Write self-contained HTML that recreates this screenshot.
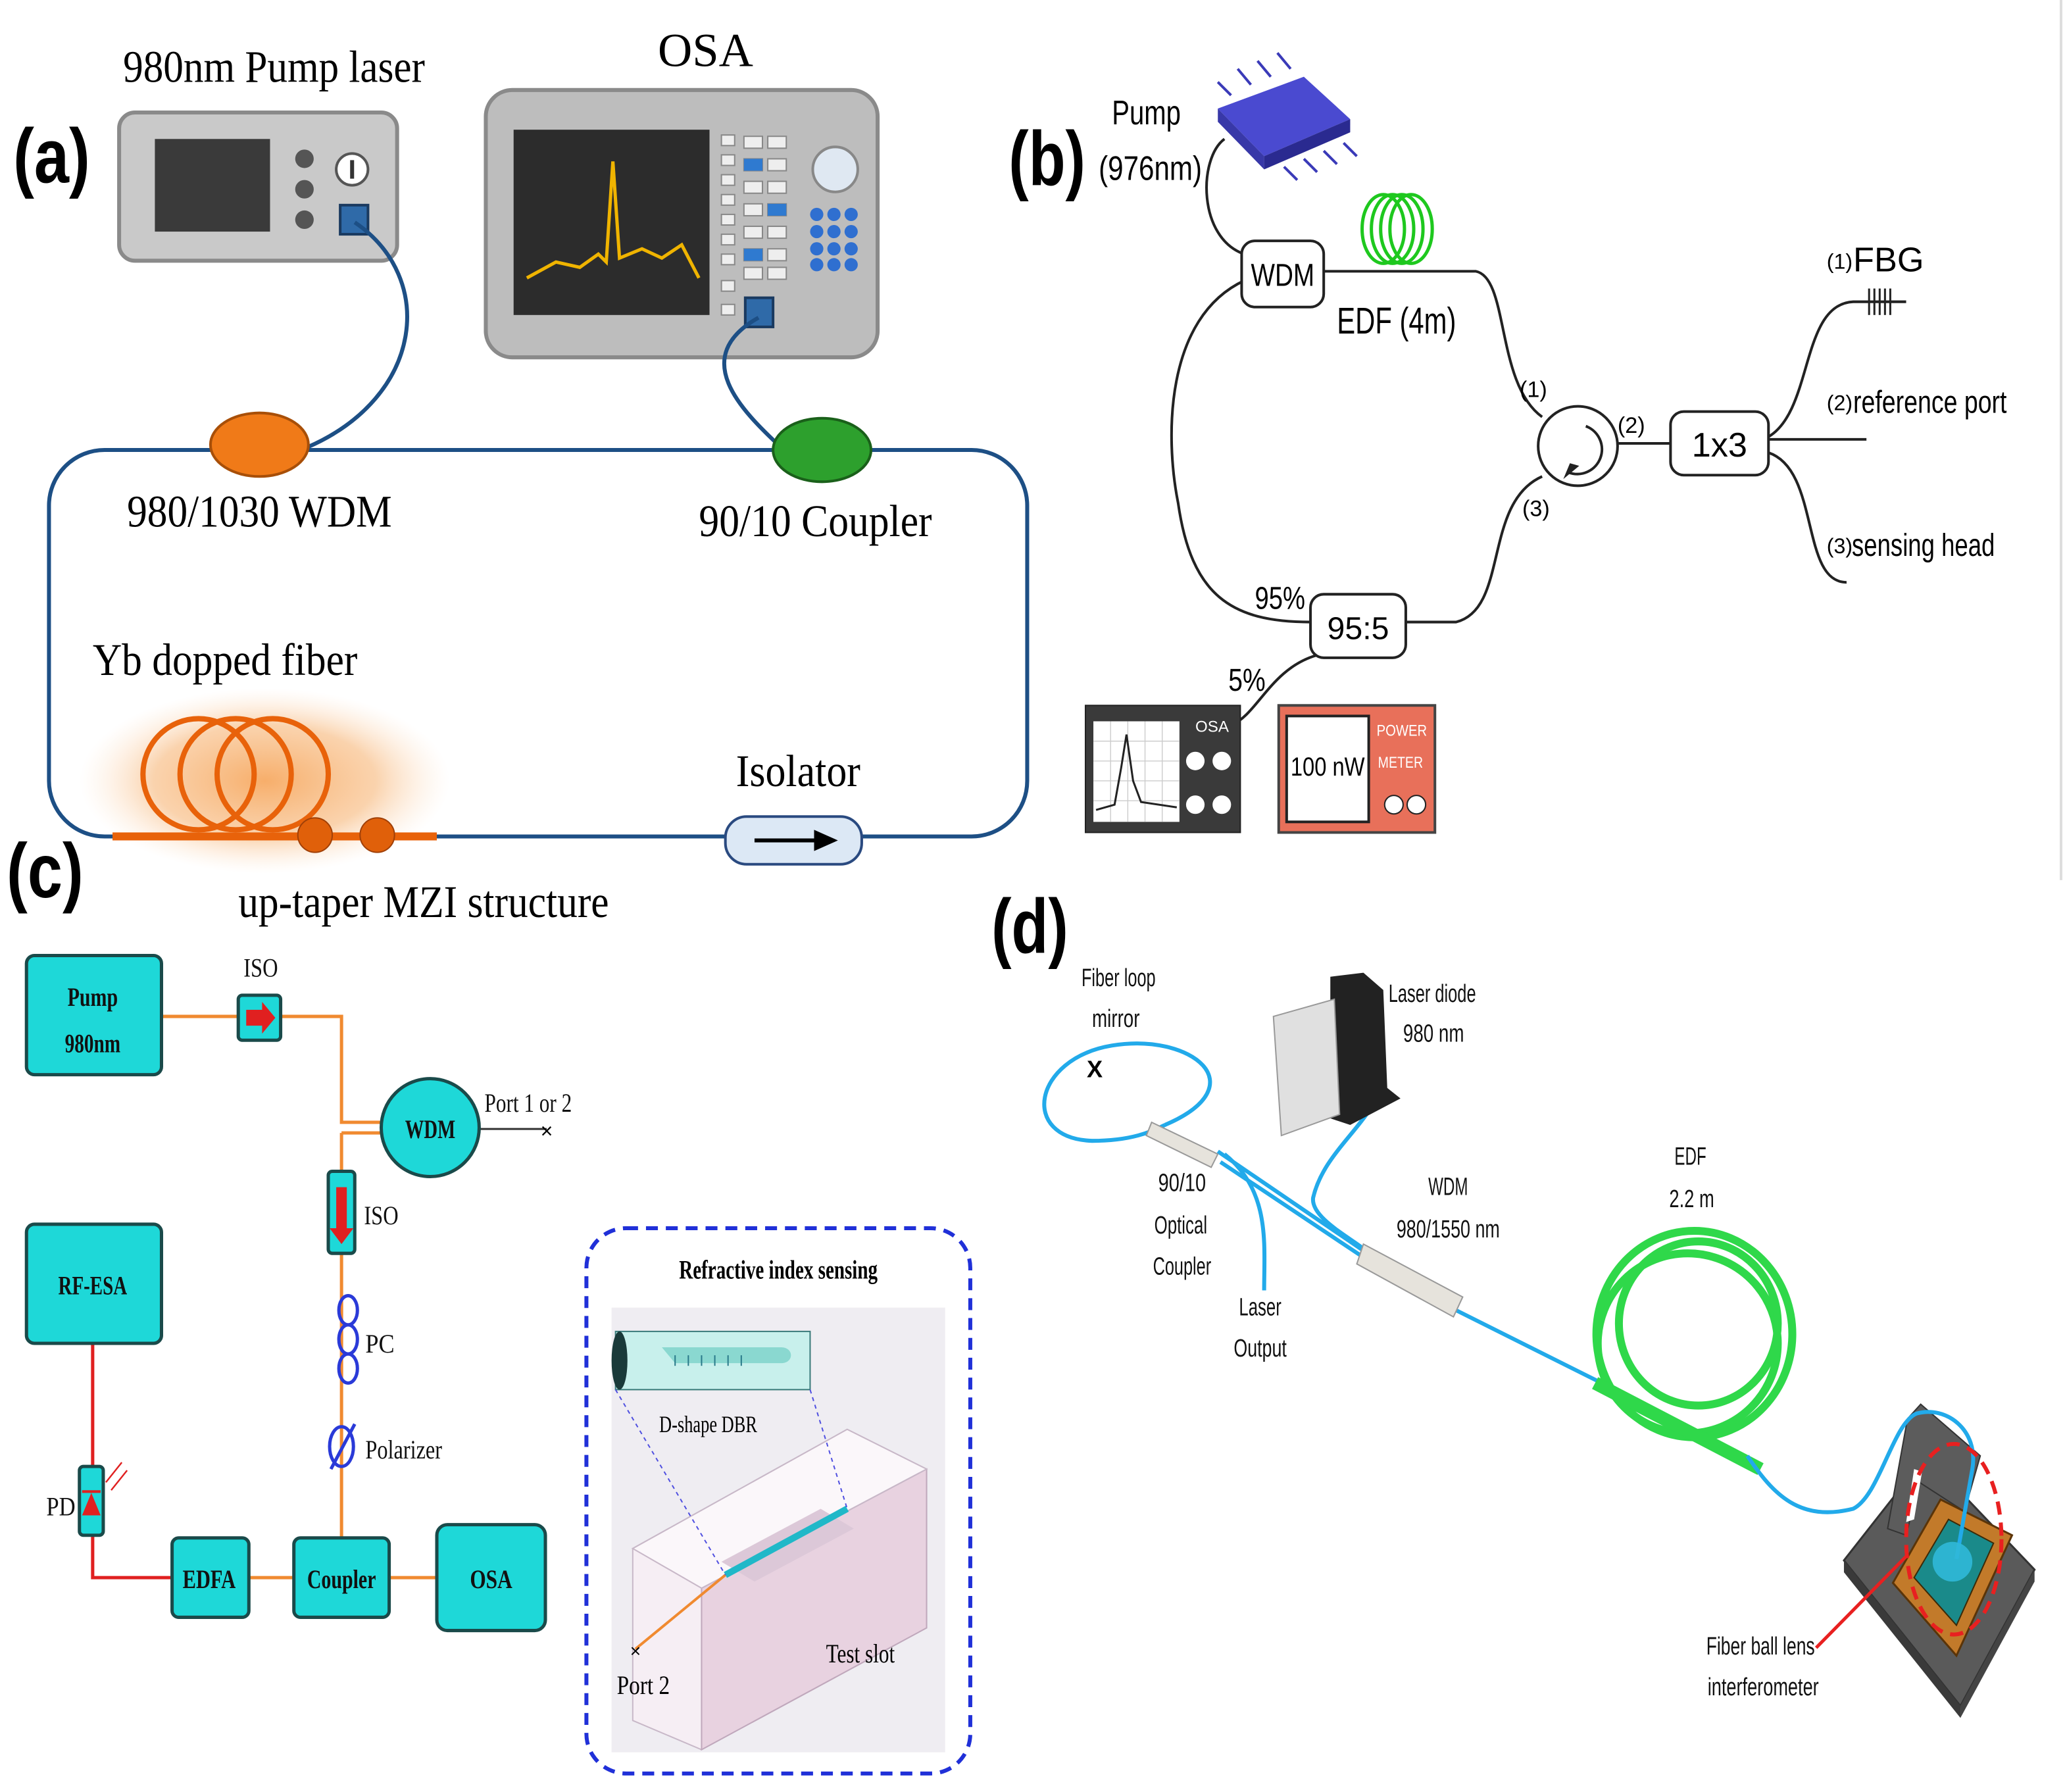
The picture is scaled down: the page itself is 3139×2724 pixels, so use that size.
<!DOCTYPE html>
<html><head><meta charset="utf-8"><style>
html,body{margin:0;padding:0;background:#fff}
svg{display:block}
.se{font-family:"Liberation Serif",serif}
.sa{font-family:"Liberation Sans",sans-serif}
</style></head><body>
<svg width="3139" height="2724" viewBox="0 0 1560 1354" preserveAspectRatio="none" xmlns="http://www.w3.org/2000/svg">
<rect width="1560" height="1354" fill="#fff"/>
<defs>
<radialGradient id="glow" cx="0.5" cy="0.5" r="0.5"><stop offset="0" stop-color="#f6a55a" stop-opacity="0.9"/><stop offset="0.6" stop-color="#f8c08a" stop-opacity="0.7"/><stop offset="1" stop-color="#fde5cf" stop-opacity="0"/></radialGradient>
</defs>
<!-- panel labels -->
<text x="10" y="138" class="sa" font-size="58" font-weight="bold" textLength="58" lengthAdjust="spacingAndGlyphs">(a)</text>
<text x="5" y="678" class="sa" font-size="58" font-weight="bold" textLength="58" lengthAdjust="spacingAndGlyphs">(c)</text>
<text x="762" y="140" class="sa" font-size="58" font-weight="bold" textLength="58" lengthAdjust="spacingAndGlyphs">(b)</text>
<text x="749" y="720" class="sa" font-size="58" font-weight="bold" textLength="58" lengthAdjust="spacingAndGlyphs">(d)</text>

<!-- ===== (a) ===== -->
<text x="93" y="62" class="se" font-size="34" textLength="228" lengthAdjust="spacingAndGlyphs">980nm Pump laser</text>
<rect x="90" y="85" width="210" height="112" rx="12" fill="#c9c9c9" stroke="#8a8a8a" stroke-width="3"/>
<rect x="117" y="105" width="87" height="70" fill="#3a3a3a"/>
<circle cx="230" cy="120" r="7" fill="#555"/><circle cx="230" cy="143" r="7" fill="#555"/><circle cx="230" cy="166" r="7" fill="#555"/>
<circle cx="266" cy="128" r="12" fill="#fff" stroke="#555" stroke-width="2"/><line x1="266" y1="121" x2="266" y2="135" stroke="#333" stroke-width="3"/>
<rect x="257" y="155" width="21" height="22" fill="#2f6aa8" stroke="#1a3a60" stroke-width="2"/>
<text x="497" y="50" class="se" font-size="36">OSA</text>
<rect x="367" y="68" width="296" height="202" rx="20" fill="#bdbdbd" stroke="#8a8a8a" stroke-width="3"/>
<rect x="388" y="98" width="148" height="140" fill="#2c2c2c"/>
<path d="M398 210 L420 198 L438 202 L452 192 L458 198 L463 122 L468 195 L485 188 L500 195 L515 185 L528 210" fill="none" stroke="#f0b400" stroke-width="2.5"/>
<g fill="#eee" stroke="#888">
<rect x="545" y="102" width="10" height="8"/><rect x="545" y="117" width="10" height="8"/><rect x="545" y="132" width="10" height="8"/><rect x="545" y="147" width="10" height="8"/><rect x="545" y="162" width="10" height="8"/><rect x="545" y="177" width="10" height="8"/><rect x="545" y="192" width="10" height="8"/><rect x="545" y="212" width="10" height="8"/><rect x="545" y="230" width="10" height="8"/>
<rect x="562" y="103" width="14" height="9"/><rect x="580" y="103" width="14" height="9"/><rect x="562" y="120" width="14" height="9"/><rect x="580" y="120" width="14" height="9"/><rect x="562" y="137" width="14" height="9"/><rect x="580" y="137" width="14" height="9"/><rect x="562" y="154" width="14" height="9"/><rect x="580" y="154" width="14" height="9"/><rect x="562" y="171" width="14" height="9"/><rect x="580" y="171" width="14" height="9"/><rect x="562" y="188" width="14" height="9"/><rect x="580" y="188" width="14" height="9"/><rect x="562" y="202" width="14" height="9"/><rect x="580" y="202" width="14" height="9"/>
</g>
<rect x="562" y="120" width="14" height="9" fill="#2f7ad0"/><rect x="580" y="154" width="14" height="9" fill="#2f7ad0"/><rect x="562" y="188" width="14" height="9" fill="#2f7ad0"/>
<circle cx="631" cy="128" r="17" fill="#dfe8f2" stroke="#888" stroke-width="2"/>
<g fill="#2f6fd0"><circle cx="617" cy="162" r="5"/><circle cx="630" cy="162" r="5"/><circle cx="643" cy="162" r="5"/><circle cx="617" cy="175" r="5"/><circle cx="630" cy="175" r="5"/><circle cx="643" cy="175" r="5"/><circle cx="617" cy="188" r="5"/><circle cx="630" cy="188" r="5"/><circle cx="643" cy="188" r="5"/><circle cx="617" cy="200" r="5"/><circle cx="630" cy="200" r="5"/><circle cx="643" cy="200" r="5"/></g>
<rect x="563" y="225" width="21" height="22" fill="#2f6aa8" stroke="#1a3a60" stroke-width="2"/>
<rect x="37" y="340" width="739" height="292" rx="42" fill="none" stroke="#1d4f85" stroke-width="3"/>
<path d="M268 168 C330 210 320 300 232 338" fill="none" stroke="#1d4f85" stroke-width="3"/>
<path d="M573 240 C520 270 560 310 590 338" fill="none" stroke="#1d4f85" stroke-width="3"/>
<ellipse cx="196" cy="336" rx="37" ry="24" fill="#f07a18" stroke="#a84f08" stroke-width="2"/>
<ellipse cx="621" cy="340" rx="37" ry="24" fill="#2da02d" stroke="#1a601a" stroke-width="2"/>
<text x="96" y="398" class="se" font-size="34" textLength="200" lengthAdjust="spacingAndGlyphs">980/1030 WDM</text>
<text x="528" y="405" class="se" font-size="34" textLength="176" lengthAdjust="spacingAndGlyphs">90/10 Coupler</text>
<text x="70" y="510" class="se" font-size="34" textLength="200" lengthAdjust="spacingAndGlyphs">Yb dopped fiber</text>
<ellipse cx="200" cy="590" rx="140" ry="70" fill="url(#glow)"/>
<g fill="none" stroke="#e8620a" stroke-width="4"><circle cx="150" cy="585" r="42"/><circle cx="178" cy="585" r="42"/><circle cx="206" cy="585" r="42"/></g>
<line x1="85" y1="632" x2="330" y2="632" stroke="#e8620a" stroke-width="6"/>
<circle cx="238" cy="631" r="13" fill="#e0600a" stroke="#a04008"/><circle cx="285" cy="631" r="13" fill="#e0600a" stroke="#a04008"/>
<text x="556" y="594" class="se" font-size="34" textLength="94" lengthAdjust="spacingAndGlyphs">Isolator</text>
<rect x="548" y="617" width="103" height="36" rx="16" fill="#dce8f5" stroke="#2a4a80" stroke-width="2"/>
<line x1="570" y1="635" x2="620" y2="635" stroke="#000" stroke-width="3"/><path d="M633 635 L615 627 L615 643Z" fill="#000"/>
<text x="180" y="693" class="se" font-size="34" textLength="280" lengthAdjust="spacingAndGlyphs">up-taper MZI structure</text>

<!-- ===== (b) ===== -->
<line x1="1557" y1="0" x2="1557" y2="665" stroke="#ddd" stroke-width="2"/>
<text x="840" y="94" class="sa" font-size="26" textLength="52" lengthAdjust="spacingAndGlyphs">Pump</text>
<text x="830" y="136" class="sa" font-size="26" textLength="78" lengthAdjust="spacingAndGlyphs">(976nm)</text>
<g stroke="#3a3ab8" stroke-width="2"><line x1="930" y1="72" x2="920" y2="62"/><line x1="945" y1="64" x2="935" y2="52"/><line x1="960" y1="58" x2="950" y2="46"/><line x1="975" y1="52" x2="965" y2="40"/><line x1="985" y1="120" x2="995" y2="130"/><line x1="1000" y1="114" x2="1010" y2="124"/><line x1="1015" y1="108" x2="1025" y2="118"/><line x1="970" y1="126" x2="980" y2="136"/></g>
<path d="M920 82 L985 58 L1020 90 L955 118Z" fill="#4a4ad0"/><path d="M955 118 L1020 90 L1020 100 L955 128Z" fill="#2a2a90"/><path d="M920 82 L955 118 L955 128 L920 92Z" fill="#3838a8"/>
<g fill="none" stroke="#222" stroke-width="2">
<path d="M925 105 C905 120 905 180 940 192"/>
<path d="M940 212 C880 240 880 330 890 380 C900 450 930 470 990 470"/>
<path d="M1000 205 L1115 205 C1140 210 1130 290 1165 315"/>
<path d="M1062 470 L1100 470 C1140 460 1120 380 1165 360"/>
<path d="M1222 335 L1262 335"/>
<path d="M1336 330 C1370 310 1360 230 1400 228 L1440 228"/>
<path d="M1336 332 L1410 332"/>
<path d="M1336 342 C1375 355 1360 440 1395 440"/>
<path d="M995 495 C960 505 950 540 930 548"/>
</g>
<g stroke="#222" stroke-width="1.5"><line x1="1412" y1="218" x2="1412" y2="238"/><line x1="1416" y1="218" x2="1416" y2="238"/><line x1="1420" y1="218" x2="1420" y2="238"/><line x1="1424" y1="218" x2="1424" y2="238"/><line x1="1428" y1="218" x2="1428" y2="238"/></g>
<rect x="938" y="182" width="62" height="50" rx="10" fill="#fff" stroke="#222" stroke-width="2"/>
<text x="945" y="216" class="sa" font-size="24" textLength="48" lengthAdjust="spacingAndGlyphs">WDM</text>
<g fill="none" stroke="#1ec81e" stroke-width="2.5"><ellipse cx="1045" cy="173" rx="16" ry="26"/><ellipse cx="1052" cy="173" rx="16" ry="26"/><ellipse cx="1059" cy="173" rx="16" ry="26"/><ellipse cx="1066" cy="173" rx="16" ry="26"/></g>
<text x="1010" y="252" class="sa" font-size="28" textLength="90" lengthAdjust="spacingAndGlyphs">EDF (4m)</text>
<circle cx="1192" cy="337" r="30" fill="#fff" stroke="#222" stroke-width="2"/>
<path d="M1198 322 A18 18 0 1 1 1185 357" fill="none" stroke="#222" stroke-width="2"/><path d="M1193 352 L1181 362 L1186 350Z" fill="#222"/>
<text x="1148" y="300" class="sa" font-size="17">(1)</text>
<text x="1222" y="327" class="sa" font-size="17">(2)</text>
<text x="1150" y="390" class="sa" font-size="17">(3)</text>
<rect x="1262" y="311" width="74" height="48" rx="10" fill="#fff" stroke="#222" stroke-width="2"/>
<text x="1299" y="345" class="sa" font-size="26" text-anchor="middle">1x3</text>
<text x="1380" y="203" class="sa" font-size="16">(1)</text><text x="1400" y="205" class="sa" font-size="26">FBG</text>
<text x="1380" y="310" class="sa" font-size="16">(2)</text><text x="1400" y="312" class="sa" font-size="24" textLength="116" lengthAdjust="spacingAndGlyphs">reference port</text>
<text x="1380" y="418" class="sa" font-size="16">(3)</text><text x="1399" y="420" class="sa" font-size="24" textLength="108" lengthAdjust="spacingAndGlyphs">sensing head</text>
<text x="948" y="460" class="sa" font-size="24" textLength="38" lengthAdjust="spacingAndGlyphs">95%</text>
<rect x="990" y="449" width="72" height="48" rx="10" fill="#fff" stroke="#222" stroke-width="2"/>
<text x="1026" y="483" class="sa" font-size="24" text-anchor="middle">95:5</text>
<text x="928" y="522" class="sa" font-size="24" textLength="28" lengthAdjust="spacingAndGlyphs">5%</text>
<rect x="820" y="533" width="117" height="96" fill="#3a3a3a" stroke="#222"/>
<rect x="826" y="545" width="65" height="76" fill="#fff"/>
<g stroke="#ccc" stroke-width="0.7"><line x1="826" y1="560" x2="891" y2="560"/><line x1="826" y1="575" x2="891" y2="575"/><line x1="826" y1="590" x2="891" y2="590"/><line x1="826" y1="605" x2="891" y2="605"/><line x1="839" y1="545" x2="839" y2="621"/><line x1="852" y1="545" x2="852" y2="621"/><line x1="865" y1="545" x2="865" y2="621"/><line x1="878" y1="545" x2="878" y2="621"/></g>
<path d="M828 612 L842 608 L847 580 L851 555 L856 590 L862 606 L889 610" fill="none" stroke="#222" stroke-width="1.5"/>
<text x="903" y="553" class="sa" font-size="12" fill="#fff">OSA</text>
<g fill="#fff"><circle cx="903" cy="575" r="7"/><circle cx="923" cy="575" r="7"/><circle cx="903" cy="608" r="7"/><circle cx="923" cy="608" r="7"/></g>
<rect x="966" y="533" width="118" height="96" fill="#e8705a" stroke="#444" stroke-width="2"/>
<rect x="972" y="541" width="62" height="80" fill="#fff" stroke="#222" stroke-width="2"/>
<text x="975" y="586" class="sa" font-size="20" textLength="56" lengthAdjust="spacingAndGlyphs">100 nW</text>
<text x="1040" y="556" class="sa" font-size="12" fill="#fff" textLength="38" lengthAdjust="spacingAndGlyphs">POWER</text><text x="1041" y="580" class="sa" font-size="12" fill="#fff" textLength="34" lengthAdjust="spacingAndGlyphs">METER</text>
<g fill="#fff" stroke="#222"><circle cx="1053" cy="608" r="7"/><circle cx="1070" cy="608" r="7"/></g>

<!-- ===== (c) ===== -->
<g fill="none" stroke="#f08a30" stroke-width="2.5">
<path d="M122 768 L180 768"/><path d="M212 768 L258 768 L258 848 L290 848"/><path d="M258 856 L290 856"/>
<path d="M258 856 L258 885"/><path d="M258 947 L258 1162"/>
<path d="M188 1192 L222 1192"/><path d="M294 1192 L330 1192"/>
</g>
<line x1="362" y1="853" x2="413" y2="853" stroke="#333" stroke-width="1.5"/>
<text x="413" y="860" class="sa" font-size="16" text-anchor="middle">×</text>
<path d="M70 1015 L70 1108 M70 1160 L70 1192 L130 1192" fill="none" stroke="#e02020" stroke-width="2.5"/>
<g fill="#1ed8d8" stroke="#1a4a4a" stroke-width="2.5">
<rect x="20" y="722" width="102" height="90" rx="6"/>
<rect x="20" y="925" width="102" height="90" rx="6"/>
<rect x="180" y="752" width="32" height="34" rx="3"/>
<circle cx="325" cy="852" r="37"/>
<rect x="248" y="885" width="20" height="62" rx="3"/>
<rect x="60" y="1108" width="18" height="52" rx="3"/>
<rect x="130" y="1162" width="58" height="60" rx="5"/>
<rect x="222" y="1162" width="72" height="60" rx="5"/>
<rect x="330" y="1152" width="82" height="80" rx="8"/>
</g>
<path d="M186 763 L198 763 L198 757 L208 769 L198 781 L198 775 L186 775Z" fill="#e02020"/>
<path d="M254 897 L262 897 L262 928 L267 928 L258 940 L249 928 L254 928Z" fill="#e02020"/>
<path d="M62 1145 L76 1145 L69 1128Z" fill="#e02020"/><line x1="62" y1="1127" x2="76" y2="1127" stroke="#e02020" stroke-width="2"/>
<path d="M80 1120 L92 1105 M84 1126 L96 1111" stroke="#e02020" stroke-width="1.2"/>
<g fill="none" stroke="#2a3ad8" stroke-width="2.5"><ellipse cx="263" cy="990" rx="7" ry="11"/><ellipse cx="263" cy="1012" rx="7" ry="11"/><ellipse cx="263" cy="1034" rx="7" ry="11"/><ellipse cx="258" cy="1093" rx="9" ry="15"/><line x1="250" y1="1110" x2="268" y2="1076"/></g>
<g class="se" font-weight="bold" fill="#111" font-size="20">
<text x="51" y="760" textLength="38" lengthAdjust="spacingAndGlyphs">Pump</text>
<text x="49" y="795" textLength="42" lengthAdjust="spacingAndGlyphs">980nm</text>
<text x="44" y="978" textLength="52" lengthAdjust="spacingAndGlyphs">RF-ESA</text>
<text x="306" y="860" textLength="38" lengthAdjust="spacingAndGlyphs">WDM</text>
<text x="138" y="1200" textLength="40" lengthAdjust="spacingAndGlyphs">EDFA</text>
<text x="232" y="1200" textLength="52" lengthAdjust="spacingAndGlyphs">Coupler</text>
<text x="355" y="1200" textLength="32" lengthAdjust="spacingAndGlyphs">OSA</text>
</g>
<g class="se" font-size="20" fill="#111">
<text x="184" y="738" textLength="26" lengthAdjust="spacingAndGlyphs">ISO</text>
<text x="366" y="840" textLength="66" lengthAdjust="spacingAndGlyphs">Port 1 or 2</text>
<text x="275" y="925" textLength="26" lengthAdjust="spacingAndGlyphs">ISO</text>
<text x="276" y="1022" textLength="22" lengthAdjust="spacingAndGlyphs">PC</text>
<text x="276" y="1102" textLength="58" lengthAdjust="spacingAndGlyphs">Polarizer</text>
<text x="35" y="1145" textLength="22" lengthAdjust="spacingAndGlyphs">PD</text>
</g>
<rect x="443" y="928" width="290" height="412" rx="30" fill="none" stroke="#2030d8" stroke-width="3" stroke-dasharray="9 6"/>
<text x="513" y="966" class="se" font-size="20" font-weight="bold" textLength="150" lengthAdjust="spacingAndGlyphs">Refractive index sensing</text>
<rect x="462" y="988" width="252" height="336" fill="#efedf2"/>
<path d="M478 1170 L640 1080 L700 1110 L700 1230 L530 1322 L478 1300Z" fill="#f6eef4" stroke="#c8b8c8"/>
<path d="M530 1200 L530 1322 L700 1230 L700 1110Z" fill="#e8d2e0" stroke="#c0a8bc"/>
<path d="M478 1170 L530 1200 L700 1110 L640 1080Z" fill="#fbf7fa" stroke="#c8b8c8"/>
<path d="M545 1180 L620 1140 L645 1155 L570 1195Z" fill="#dcc8d8"/>
<line x1="548" y1="1190" x2="640" y2="1140" stroke="#20b8c8" stroke-width="5"/>
<line x1="480" y1="1246" x2="548" y2="1190" stroke="#f08a30" stroke-width="2"/>
<path d="M465 1006 L612 1006 L612 1050 L465 1050Z" fill="#c8f0ec" stroke="#3a7a7a"/>
<ellipse cx="468" cy="1028" rx="6" ry="22" fill="#1a3a3a"/>
<path d="M500 1018 L590 1018 C600 1018 600 1030 590 1030 L510 1030Z" fill="#8ad8d0"/>
<g stroke="#2a7a8a" stroke-width="1"><line x1="510" y1="1024" x2="510" y2="1032"/><line x1="520" y1="1024" x2="520" y2="1032"/><line x1="530" y1="1024" x2="530" y2="1032"/><line x1="540" y1="1024" x2="540" y2="1032"/><line x1="550" y1="1024" x2="550" y2="1032"/><line x1="560" y1="1024" x2="560" y2="1032"/></g>
<path d="M465 1050 L548 1190 M612 1050 L640 1140" stroke="#5050e0" stroke-dasharray="3 3" fill="none"/>
<text x="498" y="1082" class="se" font-size="18" textLength="74" lengthAdjust="spacingAndGlyphs">D-shape DBR</text>
<text x="624" y="1256" class="se" font-size="20" textLength="52" lengthAdjust="spacingAndGlyphs">Test slot</text>
<text x="476" y="1252" class="sa" font-size="14">×</text>
<text x="466" y="1280" class="se" font-size="20" textLength="40" lengthAdjust="spacingAndGlyphs">Port 2</text>

<!-- ===== (d) ===== -->
<g fill="none" stroke="#22aaea" stroke-width="3">
<path d="M880 850 C950 820 900 780 840 790 C780 800 770 860 825 862 C855 862 870 855 880 850"/>
<path d="M920 870 L1030 945"/><path d="M922 878 L1030 950"/>
<path d="M925 872 C960 900 955 940 955 975"/>
<path d="M1045 818 C1035 850 1000 870 992 905 C990 920 1020 935 1032 945"/>
<path d="M1100 990 L1210 1045"/>
</g>
<text x="821" y="814" class="sa" font-size="18" font-weight="bold">X</text>
<path d="M870 848 L920 872 L915 882 L866 858Z" fill="#e6e3dc" stroke="#999"/>
<path d="M1030 940 L1105 980 L1098 995 L1025 955Z" fill="#e6e3dc" stroke="#999"/>
<path d="M1005 738 L1030 735 L1045 748 L1048 822 L1058 830 L1020 850 L1005 845Z" fill="#222"/>
<path d="M962 768 L1008 755 L1012 842 L968 858Z" fill="#e0e0e0" stroke="#999"/>
<g fill="none" stroke="#2fd84a" stroke-width="6"><ellipse cx="1275" cy="1015" rx="68" ry="68"/><ellipse cx="1280" cy="1008" rx="74" ry="78"/><ellipse cx="1283" cy="1000" rx="60" ry="62"/></g>
<path d="M1205 1045 L1330 1110" stroke="#2fd84a" stroke-width="10"/>
<!-- stage -->
<path d="M1393 1179 L1455 1100 L1537 1186 L1481 1289Z" fill="#5a5a5a" stroke="#333" stroke-width="1.5"/>
<path d="M1393 1179 L1481 1289 L1481 1298 L1393 1188Z" fill="#3a3a3a"/>
<path d="M1481 1289 L1537 1186 L1537 1195 L1481 1298Z" fill="#444"/>
<path d="M1426 1155 L1441 1072 L1451 1061 L1496 1100 L1484 1142 L1450 1120 L1440 1160Z" fill="#5c5c5c" stroke="#333"/>
<path d="M1446 1110 L1452 1112 L1446 1148 L1440 1150Z" fill="#fff"/>
<path d="M1430 1196 L1466 1133 L1520 1160 L1478 1251Z" fill="#c27a2a" stroke="#5a3408" stroke-width="1.5"/>
<path d="M1446 1192 L1472 1148 L1506 1166 L1478 1228Z" fill="#1a8a8a" stroke="#3a2a08"/>
<path d="M1320 1100 C1340 1130 1360 1150 1400 1140 C1420 1130 1430 1075 1448 1068 C1470 1062 1495 1080 1490 1110 L1478 1178" fill="none" stroke="#22aaea" stroke-width="3"/>
<circle cx="1475" cy="1180" r="15" fill="#30b8d8" opacity="0.9"/>
<ellipse cx="1476" cy="1163" rx="36" ry="72" fill="none" stroke="#e82020" stroke-width="3" stroke-dasharray="10 6"/>
<line x1="1372" y1="1245" x2="1440" y2="1176" stroke="#e82020" stroke-width="2.5"/>
<g class="sa" font-size="19" fill="#111">
<text x="817" y="745" textLength="56" lengthAdjust="spacingAndGlyphs">Fiber loop</text>
<text x="825" y="776" textLength="36" lengthAdjust="spacingAndGlyphs">mirror</text>
<text x="1049" y="757" textLength="66" lengthAdjust="spacingAndGlyphs">Laser diode</text>
<text x="1060" y="787" textLength="46" lengthAdjust="spacingAndGlyphs">980 nm</text>
<text x="875" y="900" textLength="36" lengthAdjust="spacingAndGlyphs">90/10</text>
<text x="872" y="932" textLength="40" lengthAdjust="spacingAndGlyphs">Optical</text>
<text x="871" y="963" textLength="44" lengthAdjust="spacingAndGlyphs">Coupler</text>
<text x="936" y="994" textLength="32" lengthAdjust="spacingAndGlyphs">Laser</text>
<text x="932" y="1025" textLength="40" lengthAdjust="spacingAndGlyphs">Output</text>
<text x="1079" y="903" textLength="30" lengthAdjust="spacingAndGlyphs">WDM</text>
<text x="1055" y="935" textLength="78" lengthAdjust="spacingAndGlyphs">980/1550 nm</text>
<text x="1265" y="880" textLength="24" lengthAdjust="spacingAndGlyphs">EDF</text>
<text x="1261" y="912" textLength="34" lengthAdjust="spacingAndGlyphs">2.2 m</text>
<text x="1289" y="1250" textLength="82" lengthAdjust="spacingAndGlyphs">Fiber ball lens</text>
<text x="1290" y="1281" textLength="84" lengthAdjust="spacingAndGlyphs">interferometer</text>
</g>
</svg>
</body></html>
